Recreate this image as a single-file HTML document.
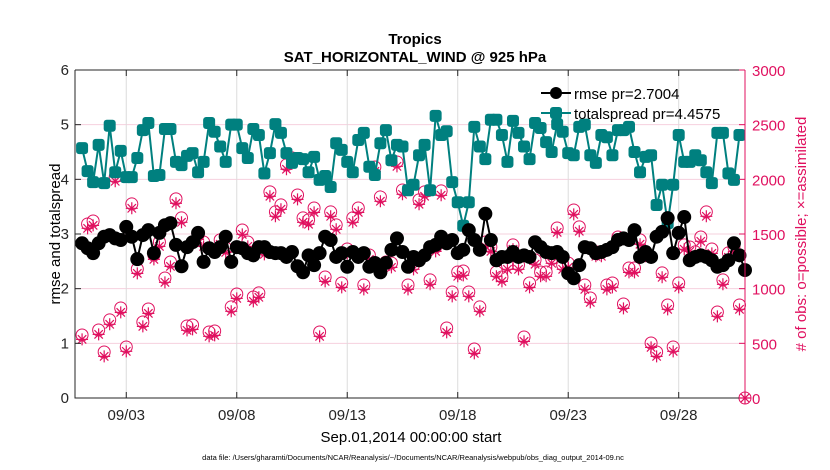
<!DOCTYPE html>
<html><head><meta charset="utf-8"><style>
body{margin:0;background:#fff;}
svg{display:block;font-family:"Liberation Sans",Arial,sans-serif;}
</style></head><body>
<svg id="chart" width="830" height="470" viewBox="0 0 830 470">
<rect x="0" y="0" width="830" height="470" fill="#fff"/>
<g id="grid"></g>
<g id="marks"></g>
<g id="axes"></g>
<text x="415" y="44" text-anchor="middle" font-size="15" font-weight="bold">Tropics</text>
<text x="415" y="62" text-anchor="middle" font-size="15" font-weight="bold">SAT_HORIZONTAL_WIND @ 925 hPa</text>
<text x="411" y="442" text-anchor="middle" font-size="15">Sep.01,2014 00:00:00 start</text>
<text x="413" y="460" text-anchor="middle" font-size="7.5">data file: /Users/gharamti/Documents/NCAR/Reanalysis/~/Documents/NCAR/Reanalysis/webpub/obs_diag_output_2014-09.nc</text>
<text transform="translate(60,234) rotate(-90)" text-anchor="middle" font-size="15">rmse and totalspread</text>
<text transform="translate(806,234) rotate(-90)" text-anchor="middle" font-size="15" fill="#e0105f"># of obs: o=possible; ×=assimilated</text>
<g>
<line x1="541" y1="93" x2="571" y2="93" stroke="#000" stroke-width="2"/>
<circle cx="556" cy="93" r="6" fill="#000"/>
<text x="574" y="99" font-size="15">rmse pr=2.7004</text>
<line x1="541" y1="113" x2="571" y2="113" stroke="#00807f" stroke-width="2"/>
<rect x="550" y="107" width="12" height="12" rx="3" fill="#00807f"/>
<text x="574" y="119" font-size="15">totalspread pr=4.4575</text>
</g>
</svg>
<script>
const dateTicks = [2, 7, 12, 17, 22, 27];
const dateLabels = ["09/03", "09/08", "09/13", "09/18", "09/23", "09/28"];
const leftTicks = [0, 1, 2, 3, 4, 5, 6];
const rightTicks = [0, 500, 1000, 1500, 2000, 2500, 3000];
const rmse = [2.83,2.74,2.65,2.83,2.95,2.98,2.92,2.89,3.13,2.95,2.54,2.98,3.07,2.65,3.02,3.16,3.2,2.8,2.41,2.76,2.85,3.02,2.49,2.74,2.67,2.76,2.95,2.49,2.76,2.74,
2.65,2.61,2.76,2.76,2.67,2.65,2.65,2.58,2.67,2.41,2.3,2.61,2.43,2.65,2.95,2.89,2.58,2.65,2.4,2.67,2.58,2.65,2.4,2.47,2.3,2.47,2.71,2.92,2.67,2.4,
2.58,2.52,2.61,2.76,2.8,2.95,2.83,2.89,2.65,2.71,3.07,2.89,2.71,3.37,2.89,2.52,2.58,2.58,2.67,2.58,2.61,2.58,2.85,2.76,2.67,2.65,2.67,2.58,2.28,2.19,
2.43,2.76,2.74,2.65,2.67,2.71,2.76,2.89,2.92,2.89,3.07,2.58,2.67,2.58,2.95,3.04,3.29,2.65,3.02,3.31,2.52,2.58,2.61,2.58,2.52,2.4,2.43,2.52,2.83,2.61,2.34];
const spread = [4.57,4.15,3.95,4.63,3.93,4.98,4.13,4.52,4.04,4.04,4.39,4.90,5.03,4.06,4.08,4.92,4.92,4.32,4.26,4.43,4.48,4.13,4.32,5.03,4.87,4.60,4.32,5.00,5.00,4.57,
4.39,4.92,4.81,4.11,4.48,5.01,4.85,4.48,4.30,4.39,4.37,4.13,4.41,3.99,4.06,3.86,4.66,4.54,4.32,4.13,4.72,4.85,4.23,4.08,4.66,4.90,4.35,4.63,4.60,3.80,
3.90,4.44,4.63,3.80,5.16,4.81,4.88,3.95,3.58,3.15,3.58,4.96,4.60,4.37,5.09,5.09,4.81,4.32,5.07,4.85,4.60,4.37,5.03,4.94,4.68,4.50,5.01,4.87,4.48,4.44,
4.96,5.00,4.44,4.30,4.81,4.77,4.44,4.90,4.90,4.96,4.50,4.13,4.41,4.44,3.53,3.90,3.20,3.90,4.81,4.32,4.32,4.44,4.35,4.13,3.93,4.85,4.85,4.11,3.99,4.81];
const obsPossible = [576,1592,1619,622,421,714,2022,823,467,1775,1180,695,814,1308,1427,1098,1244,1821,1647,659,668,1491,1427,604,613,1446,1372,833,951,1537,
1427,924,961,1354,1885,1702,1766,2132,2196,1857,1647,1629,1738,604,1107,1702,1583,1052,1363,1647,1738,1034,1308,2113,1839,1244,1235,2159,1903,1034,
1217,1812,1885,1080,1381,1894,640,970,1153,1162,970,448,833,1427,1381,1153,1107,1217,1400,1217,558,1052,1263,1153,1153,1272,1555,1217,1235,1720,
1565,1034,915,1336,1336,1034,1052,1473,860,1189,1189,1446,1336,503,421,1144,851,467,1052,1400,1381,1336,1473,1702,1363,787,1080,1327,1381,851,0];
const obsAssim = [536,1552,1579,582,381,674,1982,783,427,1735,1140,655,774,1268,1387,1058,1204,1781,1607,619,628,1451,1387,564,573,1406,1332,793,911,1497,
1387,884,921,1314,1845,1662,1726,2092,2156,1817,1607,1589,1698,564,1067,1662,1543,1012,1323,1607,1698,994,1268,2073,1799,1204,1195,2119,1863,994,
1177,1772,1845,1040,1341,1854,600,930,1113,1122,930,408,793,1387,1341,1113,1067,1177,1360,1177,518,1012,1223,1113,1113,1232,1515,1177,1195,1680,
1525,994,875,1296,1296,994,1012,1433,820,1149,1149,1406,1296,463,381,1104,811,427,1012,1360,1341,1296,1433,1662,1323,747,1040,1287,1341,811,0];

const NS = "http://www.w3.org/2000/svg";
const X0 = 75, X1 = 745, Y0 = 398, Y1 = 70;
const T0 = -0.32, T1 = 30;
function xs(t){ return X0 + (t - T0) / (T1 - T0) * (X1 - X0); }
function yl(v){ return Y0 - v / 6 * (Y0 - Y1); }
function yr(n){ return Y0 - n / 3000 * (Y0 - Y1); }
function mk(tag, attrs, parent){ const e = document.createElementNS(NS, tag); for (const k in attrs) e.setAttribute(k, attrs[k]); parent.appendChild(e); return e; }
const grid = document.getElementById('grid'), marks = document.getElementById('marks'), axes = document.getElementById('axes');
const PINK = "#e0105f", TEAL = "#00807f";

leftTicks.forEach(v => { if (v > 0 && v < 6) { const l = mk('line', {x1:X0, x2:X1, y1:yl(v), y2:yl(v), stroke:'#f6d0de', 'stroke-width':1}, grid);

 } });
dateTicks.forEach(t => { const l = mk('line', {x1:xs(t), x2:xs(t), y1:Y1, y2:Y0, stroke:'#dcdcdc', 'stroke-width':1}, grid);

 });

obsPossible.forEach((n, i) => { const t = i * 30 / (obsPossible.length - 1);
const c = mk('circle', {cx:xs(t), cy:yr(n), r:6, fill:'none', stroke:PINK, 'stroke-width':1}, marks);

 });
obsAssim.forEach((n, i) => { const t = i * 30 / (obsAssim.length - 1); const cx = xs(t), cy = yr(n), s = 6;
const g = mk('path', {d:`M${cx-s},${cy}H${cx+s}M${cx},${cy-s}V${cy+s}M${cx-s*0.7},${cy-s*0.7}L${cx+s*0.7},${cy+s*0.7}M${cx-s*0.7},${cy+s*0.7}L${cx+s*0.7},${cy-s*0.7}`, stroke:PINK, 'stroke-width':1.2, fill:'none'}, marks);

 });

const sp = mk('polyline', {points: spread.map((v, i) => xs(i*0.25) + ',' + yl(v)).join(' '), fill:'none', stroke:TEAL, 'stroke-width':2}, marks);


spread.forEach((v, i) => { const r = mk('rect', {x:xs(i*0.25)-6, y:yl(v)-6, width:12, height:12, rx:3, fill:TEAL}, marks);

 });

const rl = mk('polyline', {points: rmse.map((v, i) => xs(i*0.25) + ',' + yl(v)).join(' '), fill:'none', stroke:'#000', 'stroke-width':2}, marks);


rmse.forEach((v, i) => { const c = mk('circle', {cx:xs(i*0.25), cy:yl(v), r:7, fill:'#000'}, marks);

 });

const ax = mk('path', {d:`M${X0},${Y1}V${Y0}H${X1}`, stroke:'#262626', 'stroke-width':1, fill:'none'}, axes);


const tp = mk('line', {x1:X0, x2:X1, y1:Y1, y2:Y1, stroke:'#262626', 'stroke-width':1}, axes);


const ra = mk('line', {x1:X1, x2:X1, y1:Y1, y2:Y0, stroke:PINK, 'stroke-width':1}, axes);


leftTicks.forEach(v => {
 mk('line', {x1:X0, x2:X0+6, y1:yl(v), y2:yl(v), stroke:'#262626'}, axes);
 const t = mk('text', {x:X0-6, y:yl(v)+5, 'text-anchor':'end', 'font-size':15, fill:'#262626'}, axes); t.textContent = v;
 
 
});
rightTicks.forEach(n => {
 mk('line', {x1:X1-6, x2:X1, y1:yr(n), y2:yr(n), stroke:PINK}, axes);
 const t = mk('text', {x:X1+7, y:yr(n)+6, 'font-size':15, fill:PINK}, axes); t.textContent = n;
 
 
});
dateTicks.forEach((d, i) => {
 mk('line', {x1:xs(d), x2:xs(d), y1:Y0, y2:Y0-6, stroke:'#262626'}, axes);
 mk('line', {x1:xs(d), x2:xs(d), y1:Y1, y2:Y1+6, stroke:'#262626'}, axes);
 const t = mk('text', {x:xs(d), y:Y0+22, 'text-anchor':'middle', 'font-size':15, fill:'#262626'}, axes); t.textContent = dateLabels[i];
 
 
});
</script>
</body></html>
